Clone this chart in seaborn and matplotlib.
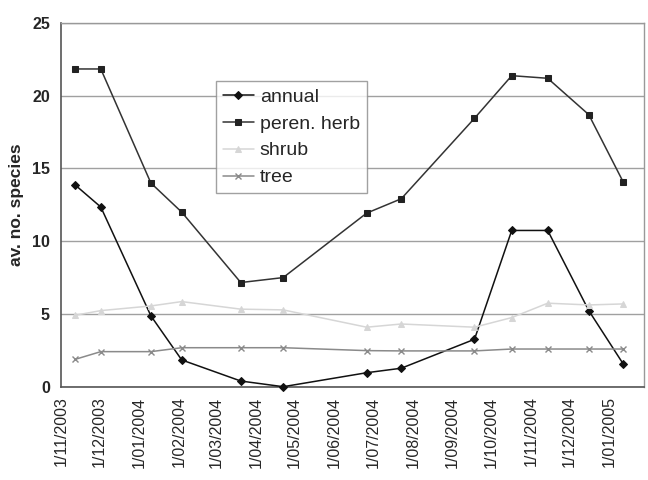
import matplotlib
matplotlib.use("Agg")
import matplotlib.pyplot as plt
import matplotlib.dates as mdates
import seaborn as sns
import pandas as pd

dates = ["2003-11-12", "2003-12-02", "2004-01-10", "2004-02-03", "2004-03-20",
         "2004-04-22", "2004-06-26", "2004-07-23", "2004-09-18", "2004-10-17",
         "2004-11-14", "2004-12-16", "2005-01-12"]
annual = [13.87, 12.35, 4.87, 1.84, 0.39, 0.0, 0.96, 1.27, 3.26, 10.74, 10.74, 5.23, 1.54]
peren_herb = [21.84, 21.84, 14.0, 12.0, 7.16, 7.5, 11.93, 12.92, 18.45, 21.38, 21.2, 18.7, 14.04]
shrub = [4.91, 5.23, 5.55, 5.85, 5.33, 5.28, 4.09, 4.31, 4.09, 4.75, 5.74, 5.62, 5.69]
tree = [1.88, 2.41, 2.41, 2.68, 2.68, 2.68, 2.48, 2.46, 2.46, 2.59, 2.59, 2.59, 2.59]
series_names = ["annual", "peren. herb", "shrub", "tree"]
y_ticks = [0, 5, 10, 15, 20, 25]
x_start, x_end = "2003-11-01", "2005-01-28"

sns.set_style("white")
plt.rcParams['font.family'] = ['Liberation Sans', 'DejaVu Sans']

df = pd.DataFrame({"date": pd.to_datetime(dates), "annual": annual,
                   "peren. herb": peren_herb, "shrub": shrub, "tree": tree})

styles = {
    "annual": dict(color="#111111", marker="D", markersize=3.8, mec="#111111", mfc="#111111", lw=1.1),
    "peren. herb": dict(color="#333333", marker="s", markersize=4.8, mec="#222222", mfc="#222222", lw=1.1),
    "shrub": dict(color="#d6d6d6", marker="^", markersize=4.5, mec="#d6d6d6", mfc="#d6d6d6", lw=1.1),
    "tree": dict(color="#8a8a8a", marker="x", markersize=5, mec="#8a8a8a", mew=1.0, lw=1.1),
}

fig = plt.figure(figsize=(6.48, 4.8), dpi=100)
ax = fig.add_axes([61/648, 1-386.7/480, (644-61)/648, (386.7-23)/480])

for name in series_names:
    st = dict(styles[name])
    sns.lineplot(data=df, x="date", y=name, ax=ax, label=name, clip_on=False, zorder=3, **st)

ax.set_xlim(pd.Timestamp(x_start), pd.Timestamp(x_end))
ax.set_ylim(0, 25)
ax.set_yticks(y_ticks)
ax.yaxis.grid(True, color="#a0a0a0", lw=1.0)
ax.xaxis.grid(False)
ax.xaxis.set_major_locator(mdates.MonthLocator())
ax.xaxis.set_major_formatter(mdates.DateFormatter("%-d/%m/%Y"))
plt.setp(ax.get_xticklabels(), rotation=90, fontsize=11.5)
for lab in ax.get_yticklabels():
    lab.set_fontweight("bold")
    lab.set_fontsize(11.5)
ax.tick_params(axis="both", direction="out", length=5, width=1, color="#555555", pad=3)
ax.tick_params(axis="x", length=4)
ax.set_xlabel("")
ax.set_ylabel("av. no. species", fontsize=12.5, fontweight="bold", labelpad=6)

for s in ["left", "bottom"]:
    ax.spines[s].set_color("#555555")
    ax.spines[s].set_linewidth(1.2)
for s in ["top", "right"]:
    ax.spines[s].set_color("#999999")
    ax.spines[s].set_linewidth(1.0)

leg = ax.legend(loc="upper left", bbox_to_anchor=(0.266, 0.84), borderaxespad=0,
                fontsize=14, frameon=True, fancybox=False, edgecolor="#8a8a8a",
                handlelength=1.6, handletextpad=0.3, labelspacing=0.48,
                borderpad=0.35)
leg.get_frame().set_linewidth(1.0)

fig.savefig("out.png", dpi=100)
